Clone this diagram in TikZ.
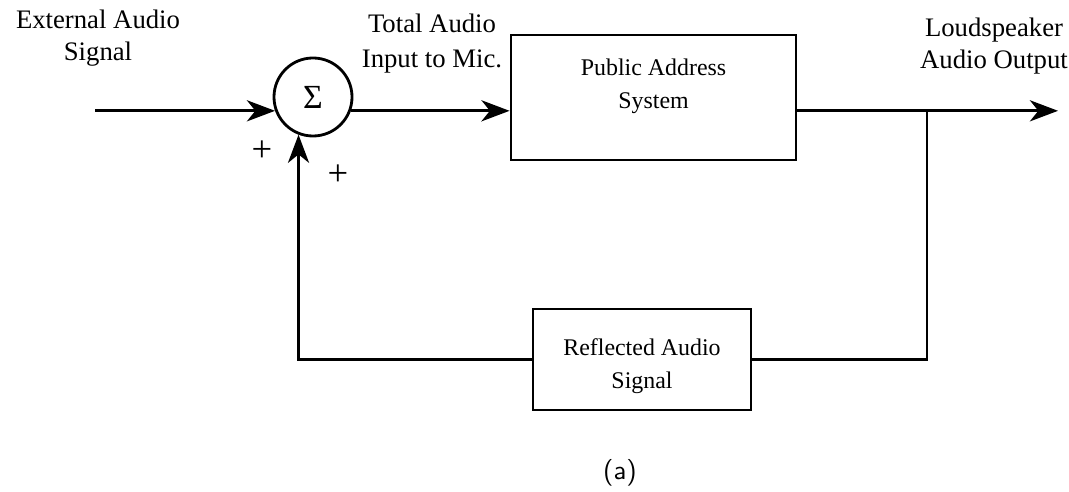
\documentclass[tikz,border=0pt]{standalone}
\usepackage{fontspec}
\setmainfont{Liberation Serif}
\usetikzlibrary{arrows.meta}

\begin{document}
\begin{tikzpicture}[x=0.0125cm, y=-0.0125cm, line width=1pt,
		sig/.style={-{Stealth[length=10pt, width=7.5pt, inset=3pt]}},
		block/.style={draw, align=center, inner sep=0pt, font=\fontsize{8.5}{11.7}\selectfont},
		lbl/.style={align=center, inner sep=0pt, font=\fontsize{9.5}{11.5}\selectfont},
		sumnode/.style={draw, circle, minimum size=0.975cm, inner sep=0pt, font=\large}]
			\useasboundingbox (0,0) rectangle (1069,492);
			\node[sumnode] (sum) at (313,97) {\raisebox{-2pt}{Σ}};
			\node[block, minimum width=3.5625cm, minimum height=1.5625cm] (pa) at (653.5,97.5) {Public Address\\System\rule[-9.7pt]{0pt}{9.7pt}};
			\node[block, minimum width=2.725cm, minimum height=1.2625cm] (refl) at (642,359.5) {\rule{0pt}{10.8pt}Reflected Audio\\Signal};
			\coordinate (in) at (95,0);
			\coordinate (out) at (1058,0);
			\coordinate (branch) at (927,0);
			\draw[sig] (in |- sum.200) -- (sum.200);
			\draw[sig] (sum.340) -- (pa.west |- sum.340);
			\draw[sig] (pa.east |- sum.340) -- (out |- sum.340);
			\draw (branch |- sum.340) |- (refl.east);
			\draw[sig] (refl.west) -| (sum.249);
			\node[lbl] (ext) at (98,38) {External Audio\\Signal};
			\node[lbl, font=\fontsize{9.5}{12.5}\selectfont] (tot) at (432,44) {Total Audio\\Input to Mic.};
			\node[lbl] (loud) at (994,46) {Loudspeaker\\Audio Output};
			\node[lbl, font=\fontsize{13}{13}\selectfont] (plusa) at (262,151) {+};
			\node[lbl, font=\fontsize{13}{13}\selectfont] (plusb) at (338,175) {+};
			\node[lbl, font=\sffamily\fontsize{9.5}{11.5}\selectfont] (cap) at (620,473) {(a)};
		\end{tikzpicture}
\end{document}
